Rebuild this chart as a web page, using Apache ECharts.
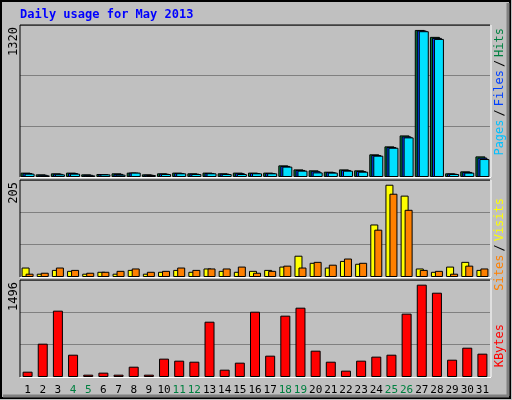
<!DOCTYPE html>
<html>
<head>
<meta charset="utf-8">
<script src="https://cdn.jsdelivr.net/npm/echarts@6/dist/echarts.min.js"></script>
<style>
  html, body { margin: 0; padding: 0; background: #fff; }
  #main { width: 512px; height: 400px; }
</style>
</head>
<body>
<div id="main"></div>
<script>
// data
var days = ['1','2','3','4','5','6','7','8','9','10','11','12','13','14','15','16',
            '17','18','19','20','21','22','23','24','25','26','27','28','29','30','31'];
var weekend = ['4','5','11','12','18','19','25','26'];

var hits  = [38,23,32,38,23,26,32,38,23,32,38,32,38,32,38,38,38,101,66,58,46,66,58,197,266,361,1277,1217,32,49,179];
var files = [34,19,28,34,19,25,27,38,20,29,35,29,35,29,33,35,35,96,61,50,42,61,52,191,260,352,1272,1208,29,44,168];
var pages = [29,14,23,29,14,23,20,38,17,26,32,26,32,26,26,32,32,90,55,40,38,55,46,185,254,344,1266,1199,26,38,156];

var visits = [20,7,15,13,7,11,7,15,7,11,15,11,18,13,11,13,15,22,45,30,20,34,28,111,195,172,18,11,22,32,15];
var sites  = [7,9,20,15,9,11,13,18,11,13,20,15,18,18,22,9,13,24,20,32,26,39,30,100,176,142,15,13,7,24,18];

var kbytes = [82,514,1023,344,36,67,36,159,36,283,252,236,853,113,221,1007,329,946,1069,406,236,98,252,314,344,977,1424,1300,267,452,360];

var maxHits = 1320, maxVisits = 205, maxKb = 1496;

var mono = 'DejaVu Sans Mono';
var chart = echarts.init(document.getElementById('main'));

var panels = [
  {top: 25, height: 152, max: maxHits},
  {top: 180, height: 97, max: maxVisits},
  {top: 280, height: 97, max: maxKb}
];

function xAxisFor(i) {
  return {
    type: 'category', gridIndex: i, data: days,
    axisLine: {show: false}, axisTick: {show: false},
    axisLabel: {
      show: i === 2, fontFamily: mono, fontSize: 11, margin: 8, interval: 0,
      color: function (v) { return weekend.indexOf(v) >= 0 ? '#008040' : '#000'; }
    }
  };
}
function yAxisFor(i, max) {
  return {
    type: 'value', gridIndex: i, min: 0, max: max, interval: max / 3,
    axisLabel: {show: false}, axisLine: {show: false}, axisTick: {show: false},
    splitLine: {lineStyle: {color: '#808080', width: 1}}
  };
}

function bar(name, xi, data, color, width, gap) {
  var s = {
    name: name, type: 'bar', xAxisIndex: xi, yAxisIndex: xi, data: data,
    barWidth: width, itemStyle: {color: color, borderColor: '#000', borderWidth: 1},
    animation: false
  };
  if (gap) s.barGap = gap;
  return s;
}

// rotated texts: position is the top end, text reads bottom-up
function vtext(x, y, style) {
  style.align = 'right';
  style.verticalAlign = 'middle';
  return {type: 'text', x: x, y: y, rotation: Math.PI / 2, style: style};
}

var f12 = '12px ' + mono;
var gfx = [
  {type: 'rect', shape: {x: 1, y: 1, width: 509, height: 397}, style: {fill: 'none', stroke: '#000', lineWidth: 2}},
  {type: 'line', shape: {x1: 3, y1: 396, x2: 509, y2: 396}, style: {stroke: '#808080', lineWidth: 3}},
  {type: 'line', shape: {x1: 508, y1: 3, x2: 508, y2: 396}, style: {stroke: '#808080', lineWidth: 3}},
  {type: 'text', x: 20, y: 9, style: {text: 'Daily usage for May 2013', fill: '#0000ff', font: 'bold 12px ' + mono}},
  vtext(14, 27, {text: String(maxHits), fill: '#000', font: f12}),
  vtext(14, 182, {text: String(maxVisits), fill: '#000', font: f12}),
  vtext(14, 282, {text: String(maxKb), fill: '#000', font: f12}),
  vtext(500, 28, {text: '{p|Pages}{s|/}{f|Files}{s|/}{h|Hits}',
    rich: {h: {fill: '#008040', font: f12}, s: {fill: '#000', font: f12, padding: [0, 3]},
           f: {fill: '#0040ff', font: f12}, p: {fill: '#00c0ff', font: f12}}}),
  vtext(500, 198, {text: '{t|Sites}{s|/}{v|Visits}',
    rich: {v: {fill: '#ffff00', font: f12}, s: {fill: '#000', font: f12, padding: [0, 3]},
           t: {fill: '#ff8000', font: f12}}}),
  vtext(500, 324, {text: 'KBytes', fill: '#ff0000', font: f12})
];

panels.forEach(function (p) {
  var b = p.top + p.height;
  gfx.push({type: 'line', shape: {x1: 20, y1: p.top, x2: 490, y2: p.top}, style: {stroke: '#000', lineWidth: 1}, z: 10});
  gfx.push({type: 'line', shape: {x1: 20, y1: p.top, x2: 20, y2: b}, style: {stroke: '#000', lineWidth: 1}, z: 10});
  gfx.push({type: 'line', shape: {x1: 20, y1: b + 0.5, x2: 491, y2: b + 0.5}, style: {stroke: '#fff', lineWidth: 1}, z: 10});
  gfx.push({type: 'line', shape: {x1: 491, y1: p.top, x2: 491, y2: b}, style: {stroke: '#fff', lineWidth: 1}, z: 10});
});

chart.setOption({
  backgroundColor: '#c0c0c0',
  animation: false,
  grid: panels.map(function (p) {
    return {left: 20, right: 22, top: p.top, height: p.height, containLabel: false};
  }),
  xAxis: [xAxisFor(0), xAxisFor(1), xAxisFor(2)],
  yAxis: panels.map(function (p, i) { return yAxisFor(i, p.max); }),
  series: [
    bar('Hits', 0, hits, '#008040', 10),
    bar('Files', 0, files, '#0040ff', 10, '-80%'),
    bar('Pages', 0, pages, '#00e0ff', 10, '-80%'),
    bar('Visits', 1, visits, '#ffff00', 8),
    bar('Sites', 1, sites, '#ff8000', 8, '-50%'),
    bar('KBytes', 2, kbytes, '#ff0000', 10)
  ],
  graphic: gfx
});
</script>
</body>
</html>
